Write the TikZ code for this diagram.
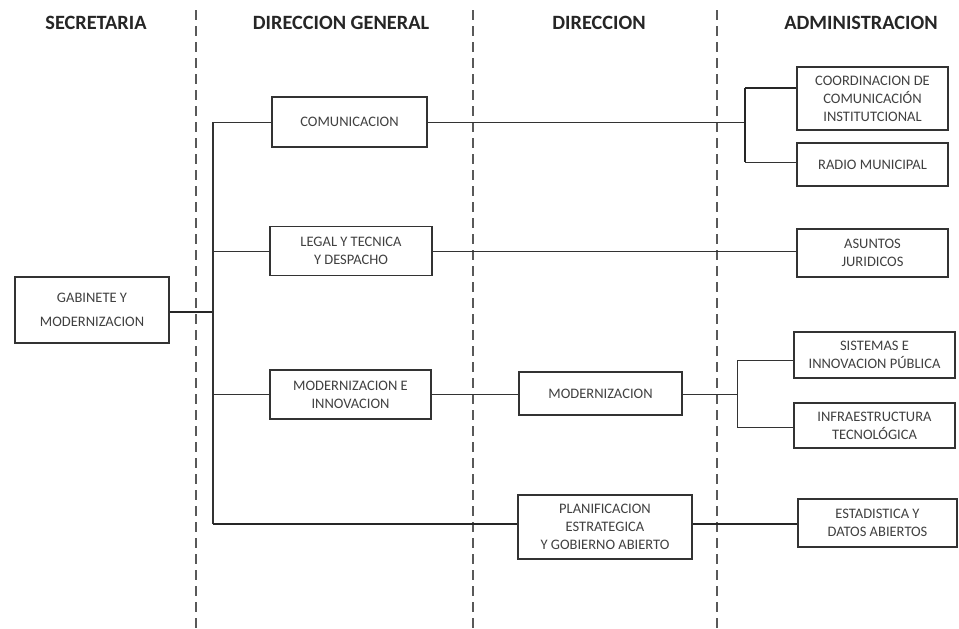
\documentclass[tikz,border=0pt]{standalone}
\usepackage{fontspec}
\setmainfont{Carlito}
\begin{document}
\begin{tikzpicture}[x=1pt,y=-1pt,
  box/.style={draw=black!80, line width=1.2pt, fill=white, inner sep=0pt, align=center,
    font=\fontsize{14.5}{18}\selectfont, text=black!75},
  head/.style={font=\fontsize{20.3}{22}\selectfont\bfseries, text=black!85},
  sep/.style={draw=black!65, line width=1.2pt, dash pattern=on 10pt off 6pt},
  conn/.style={draw=black!80, line width=1pt},
  thick conn/.style={draw=black!85, line width=1.7pt}]
\useasboundingbox (0,0) rectangle (959,629);
\fill[white] (0,0) rectangle (959,629);

% column separators
\coordinate (s1a) at (196,10); \coordinate (s1b) at (196,629);
\coordinate (s2a) at (473,10); \coordinate (s2b) at (473,629);
\coordinate (s3a) at (717,10); \coordinate (s3b) at (717,629);
\draw[sep] (s1a) -- (s1b);
\draw[sep] (s2a) -- (s2b);
\draw[sep] (s3a) -- (s3b);

% headers
\node[head] (h1) at (96,23) {SECRETARIA};
\node[head] (h2) at (341,23) {DIRECCION GENERAL};
\node[head] (h3) at (599,23) {DIRECCION};
\node[head] (h4) at (861,23) {ADMINISTRACION};

% boxes
\node[box, minimum width=154pt, minimum height=66pt, font=\fontsize{14.5}{24}\selectfont] (gab) at (92,310) {GABINETE Y\\MODERNIZACION};
\node[box, minimum width=155pt, minimum height=50pt] (com) at (349.5,122) {COMUNICACION};
\node[box, minimum width=162pt, minimum height=49pt] (leg) at (351,251) {LEGAL Y TECNICA\\Y DESPACHO};
\node[box, minimum width=161pt, minimum height=49pt] (modi) at (350.5,394.5) {MODERNIZACION E\\INNOVACION};
\node[box, minimum width=163pt, minimum height=43pt] (mod) at (600.5,393.5) {MODERNIZACION};
\node[box, minimum width=174pt, minimum height=64pt] (plan) at (605,527) {PLANIFICACION\\ESTRATEGICA\\Y GOBIERNO ABIERTO};
\node[box, minimum width=151pt, minimum height=63pt] (coord) at (872.5,98.5) {COORDINACION DE\\COMUNICACIÓN\\INSTITUTCIONAL};
\node[box, minimum width=151pt, minimum height=43pt] (radio) at (872.5,164.5) {RADIO MUNICIPAL};
\node[box, minimum width=151pt, minimum height=48pt] (asun) at (872.5,253) {ASUNTOS\\JURIDICOS};
\node[box, minimum width=161pt, minimum height=46pt] (sis) at (874.5,355) {SISTEMAS E\\INNOVACION PÚBLICA};
\node[box, minimum width=161pt, minimum height=45pt] (infra) at (874.5,425.5) {INFRAESTRUCTURA\\TECNOLÓGICA};
\node[box, minimum width=159pt, minimum height=48pt] (est) at (877.5,523) {ESTADISTICA Y\\DATOS ABIERTOS};

% trunk
\coordinate (tg) at (213,312);
\coordinate (t1) at (213,122);
\coordinate (tl) at (213,251);
\coordinate (tm) at (213,394.5);
\coordinate (t2) at (213,524);
\draw[thick conn] (gab.east |- tg) -- (tg);
\draw[conn, line width=1.3pt] (t1) -- (t2);
\draw[conn] (t1) -- (com.west |- t1);
\draw[conn] (tl) -- (leg.west |- tl);
\draw[conn] (tm) -- (modi.west |- tm);
\draw[thick conn] (t2) -- (plan.west |- t2);

% comunicacion branch
\coordinate (b1) at (745,122);
\coordinate (b1t) at (745,88);
\coordinate (b1b) at (745,162);
\draw[conn] (com.east) -- (b1);
\draw[thick conn] (b1t) -- (b1b);
\draw[thick conn] (b1t) -- (coord.west |- b1t);
\draw[conn] (b1b) -- (radio.west |- b1b);

% legal branch
\draw[conn] (leg.east) -- (asun.west |- leg.east);

% modernizacion branch
\draw[conn] (modi.east) -- (mod.west |- modi.east);
\coordinate (b2) at (737,394.5);
\coordinate (b2t) at (737,360);
\coordinate (b2b) at (737,427);
\draw[conn] (mod.east |- b2) -- (b2);
\draw[conn] (b2t) -- (b2b);
\draw[conn] (b2t) -- (sis.west |- b2t);
\draw[conn] (b2b) -- (infra.west |- b2b);

% planificacion branch
\draw[thick conn] (plan.east |- t2) -- (est.west |- t2);
\end{tikzpicture}
\end{document}
